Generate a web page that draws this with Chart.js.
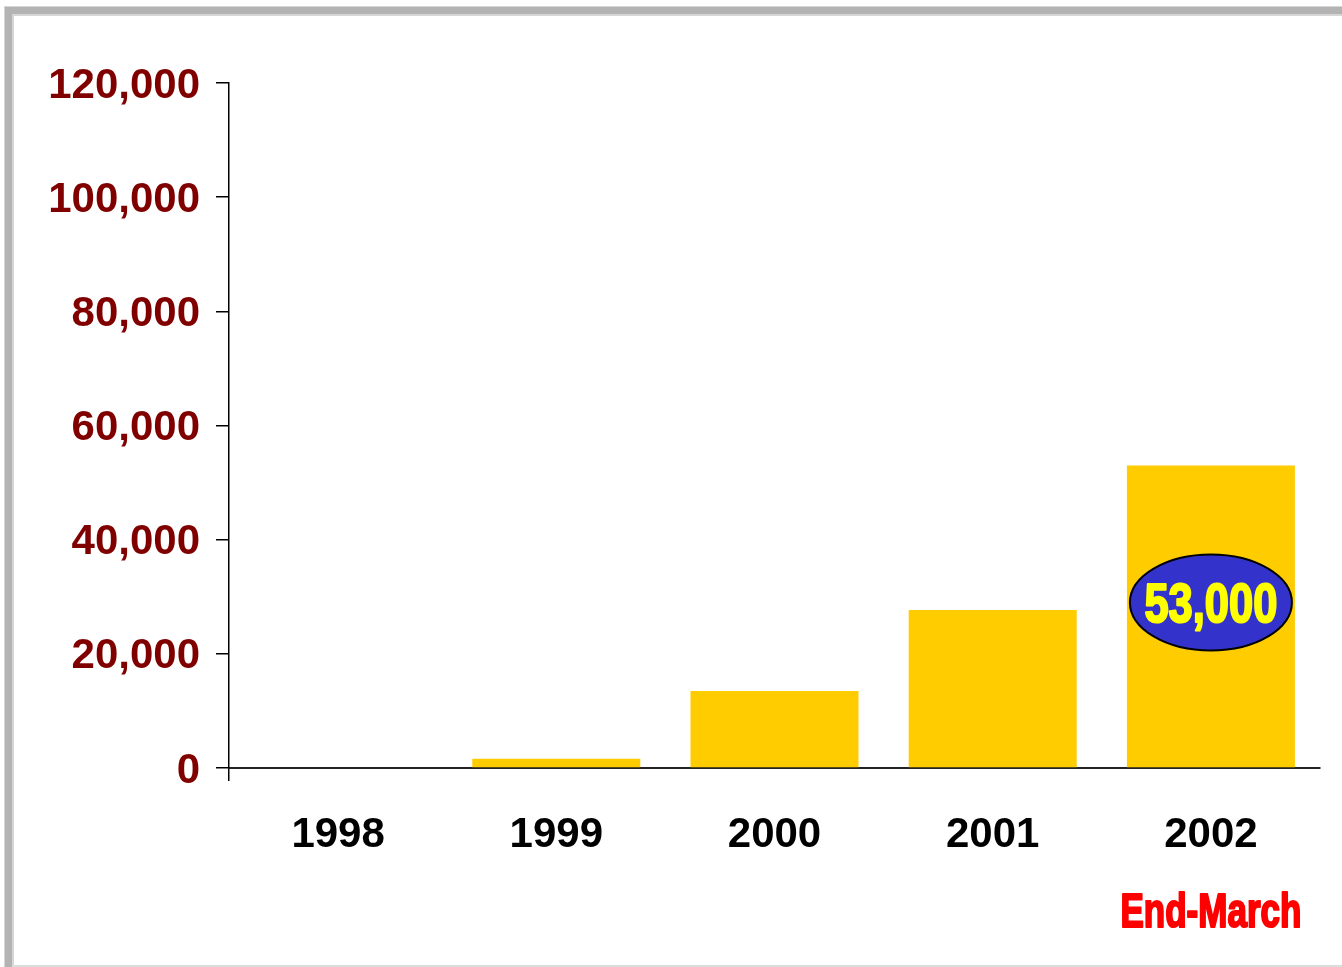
<!DOCTYPE html>
<html>
<head>
<meta charset="utf-8">
<script src="https://cdn.jsdelivr.net/npm/chart.js@4/dist/chart.umd.min.js"></script>
<style>
  html, body { margin: 0; padding: 0; background: #fff; }
  canvas { display: block; }
</style>
</head>
<body>
<canvas id="members" width="1342" height="967"></canvas>
<script>
// Yearly totals
const years = ['1998', '1999', '2000', '2001', '2002'];
const totals = [0, 1600, 13500, 27700, 53000];
const yTickValues = [0, 20000, 40000, 60000, 80000, 100000, 120000];
const calloutIndex = 4;      // bar that gets the oval value badge
const footNote = 'End-March';

const fmt = (v) => v.toLocaleString('en-US');

// Draw text squeezed horizontally to a given width (stand-in for a condensed face)
function squeezedText(ctx, text, cx, baseline, size, width, color) {
  ctx.save();
  ctx.font = 'bold ' + size + 'px "Liberation Sans Narrow", "Liberation Sans", Arial, sans-serif';
  const w = ctx.measureText(text).width;
  ctx.translate(cx, baseline);
  ctx.scale(width / w, 1);
  ctx.fillStyle = color;
  ctx.strokeStyle = color;
  ctx.lineWidth = 2.2;
  ctx.lineJoin = 'round';
  ctx.textAlign = 'center';
  ctx.textBaseline = 'alphabetic';
  ctx.strokeText(text, 0, 0);
  ctx.fillText(text, 0, 0);
  ctx.restore();
}

// Frame around the slide
const framePlugin = {
  id: 'frame',
  beforeDraw(chart) {
    const ctx = chart.ctx;
    ctx.save();
    ctx.fillStyle = '#fff';
    ctx.fillRect(0, 0, chart.width, chart.height);
    ctx.fillStyle = '#d6d6d6';
    ctx.fillRect(4, 6, chart.width - 4, 10);
    ctx.fillRect(4, 6, 10, chart.height - 6);
    ctx.fillStyle = '#b3b3b3';
    ctx.fillRect(5, 7, chart.width - 5, 7);
    ctx.fillRect(5, 7, 7, chart.height - 7);
    ctx.fillStyle = '#dcdcdc';
    ctx.fillRect(12, chart.height - 2, chart.width - 12, 2);
    ctx.restore();
  }
};

// Oval value badge on one bar, plus the footnote under the last category
const badgePlugin = {
  id: 'badge',
  afterDatasetsDraw(chart) {
    const ctx = chart.ctx;
    const bar = chart.getDatasetMeta(0).data[calloutIndex];
    const y = chart.scales.y;
    const cx = bar.x;
    const cy = y.getPixelForValue(29000);
    ctx.save();
    ctx.beginPath();
    ctx.ellipse(cx, cy, 81, 48, 0, 0, Math.PI * 2);
    ctx.fillStyle = '#3333cc';
    ctx.fill();
    ctx.lineWidth = 2;
    ctx.strokeStyle = '#000';
    ctx.stroke();
    ctx.restore();
    squeezedText(ctx, fmt(totals[calloutIndex]), cx, cy + 20, 55, 133, '#ffff00');

    const last = chart.getDatasetMeta(0).data[years.length - 1];
    squeezedText(ctx, footNote, last.x, 927, 48, 181, '#ff0000');
  }
};

const tickFont = { family: '"Liberation Sans", Arial, sans-serif', size: 42, weight: 'bold' };

new Chart(document.getElementById('members'), {
  type: 'bar',
  data: {
    labels: years,
    datasets: [{
      data: totals,
      backgroundColor: '#ffcc00',
      borderWidth: 0,
      categoryPercentage: 1,
      barPercentage: 0.77
    }]
  },
  options: {
    responsive: false,
    animation: false,
    layout: { padding: { top: 83, right: 22, bottom: 0, left: 0 } },
    plugins: {
      legend: { display: false },
      tooltip: { enabled: false }
    },
    scales: {
      x: {
        afterFit: (scale) => { scale.height = 199; },
        grid: {
          drawOnChartArea: false,
          tickLength: 13,
          lineWidth: 1.5,
          color: (c) => (c.index === 0 ? '#000' : 'rgba(0,0,0,0)')
        },
        border: { color: '#222', width: 2 },
        ticks: { color: '#000', padding: 29, font: tickFont }
      },
      y: {
        min: 0,
        max: 120000,
        afterFit: (scale) => { scale.width = 229; },
        afterBuildTicks: (scale) => { scale.ticks = yTickValues.map((v) => ({ value: v })); },
        grid: { drawOnChartArea: false, tickLength: 13, lineWidth: 1.5, color: '#000' },
        border: { color: '#000', width: 1.5 },
        ticks: {
          color: '#800000',
          padding: 16,
          labelOffset: 3,
          callback: (v) => fmt(v),
          font: tickFont
        }
      }
    }
  },
  plugins: [framePlugin, badgePlugin]
});
</script>
</body>
</html>
